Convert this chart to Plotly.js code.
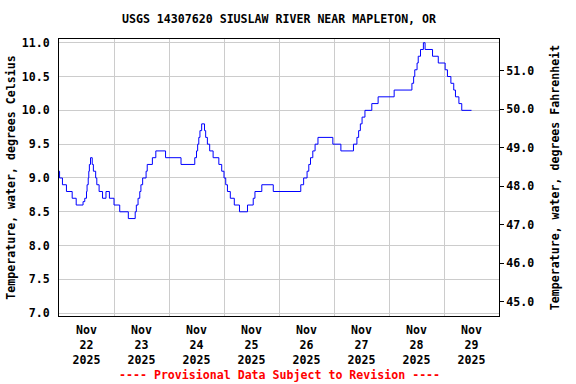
<!DOCTYPE html>
<html>
<head>
<meta charset="utf-8">
<script src="https://cdn.plot.ly/plotly-3.0.1.min.js"></script>
<style>html,body{margin:0;padding:0;background:#fff;}#chart{width:576px;height:384px;}</style>
</head>
<body>
<div id="chart"></div>
<script>
// Change points of the 15-minute water temperature record (deg C), drawn as steps
const times = [
  '2025-11-22 00:00','2025-11-22 00:15','2025-11-22 01:30','2025-11-22 03:15','2025-11-22 05:45',
  '2025-11-22 07:30','2025-11-22 10:30','2025-11-22 11:15','2025-11-22 12:00','2025-11-22 12:15',
  '2025-11-22 12:45','2025-11-22 13:00','2025-11-22 13:15','2025-11-22 13:45','2025-11-22 14:30',
  '2025-11-22 15:00','2025-11-22 16:00','2025-11-22 16:30','2025-11-22 17:30','2025-11-22 19:00',
  '2025-11-22 20:30','2025-11-22 22:00','2025-11-23 00:00','2025-11-23 02:30','2025-11-23 06:15',
  '2025-11-23 09:15','2025-11-23 09:45','2025-11-23 10:30','2025-11-23 11:15','2025-11-23 11:45',
  '2025-11-23 12:30','2025-11-23 14:00','2025-11-23 14:30','2025-11-23 16:45','2025-11-23 18:15',
  '2025-11-23 22:30','2025-11-24 05:15','2025-11-24 11:15','2025-11-24 12:00','2025-11-24 12:30',
  '2025-11-24 13:00','2025-11-24 13:30','2025-11-24 14:15','2025-11-24 15:30','2025-11-24 16:00',
  '2025-11-24 16:45','2025-11-24 17:45','2025-11-24 19:15','2025-11-24 21:45','2025-11-24 23:00',
  '2025-11-25 00:00','2025-11-25 00:45','2025-11-25 01:30','2025-11-25 02:45','2025-11-25 04:30',
  '2025-11-25 06:45','2025-11-25 10:15','2025-11-25 12:45','2025-11-25 13:30','2025-11-25 16:30',
  '2025-11-25 21:30','2025-11-26 09:30','2025-11-26 10:45','2025-11-26 12:15','2025-11-26 13:00',
  '2025-11-26 13:45','2025-11-26 14:45','2025-11-26 15:45','2025-11-26 17:00','2025-11-26 23:30',
  '2025-11-27 03:00','2025-11-27 08:30','2025-11-27 10:00','2025-11-27 10:45','2025-11-27 11:30',
  '2025-11-27 12:15','2025-11-27 13:30','2025-11-27 16:30','2025-11-27 19:15','2025-11-28 02:15',
  '2025-11-28 10:00','2025-11-28 10:45','2025-11-28 11:15','2025-11-28 12:15','2025-11-28 12:45',
  '2025-11-28 13:45','2025-11-28 15:00','2025-11-28 15:45','2025-11-28 19:00','2025-11-28 21:30',
  '2025-11-29 00:30','2025-11-29 01:30','2025-11-29 03:00','2025-11-29 04:15','2025-11-29 05:00',
  '2025-11-29 06:30','2025-11-29 07:45','2025-11-29 12:00'
];
const tempC = [
  9.1, 9.0, 8.9, 8.8, 8.7,
  8.6, 8.65, 8.7, 8.8, 8.9,
  9.0, 9.1, 9.2, 9.3, 9.2,
  9.1, 9.0, 8.9, 8.8, 8.7,
  8.8, 8.7, 8.6, 8.5, 8.4,
  8.5, 8.6, 8.7, 8.8, 8.9,
  9.0, 9.1, 9.2, 9.3, 9.4,
  9.3, 9.2, 9.3, 9.4, 9.5,
  9.6, 9.7, 9.8, 9.7, 9.6,
  9.5, 9.4, 9.3, 9.2, 9.1,
  9.0, 8.9, 8.8, 8.7, 8.6,
  8.5, 8.6, 8.7, 8.8, 8.9,
  8.8, 8.9, 9.0, 9.1, 9.2,
  9.3, 9.4, 9.5, 9.6, 9.5,
  9.4, 9.5, 9.6, 9.7, 9.8,
  9.9, 10.0, 10.1, 10.2, 10.3,
  10.4, 10.5, 10.6, 10.7, 10.8,
  10.9, 11.0, 10.9, 10.8, 10.7,
  10.6, 10.5, 10.4, 10.3, 10.2,
  10.1, 10.0, 10.0
];
const dayGrid = ['2025-11-22','2025-11-23','2025-11-24','2025-11-25','2025-11-26','2025-11-27','2025-11-28','2025-11-29','2025-11-30'];
const dayLabelAt = ['2025-11-22 12:00','2025-11-23 12:00','2025-11-24 12:00','2025-11-25 12:00','2025-11-26 12:00','2025-11-27 12:00','2025-11-28 12:00','2025-11-29 12:00'];
const dayLabels = ['Nov<br>22<br>2025','Nov<br>23<br>2025','Nov<br>24<br>2025','Nov<br>25<br>2025','Nov<br>26<br>2025','Nov<br>27<br>2025','Nov<br>28<br>2025','Nov<br>29<br>2025'];
const celsiusTicks = [7.0, 7.5, 8.0, 8.5, 9.0, 9.5, 10.0, 10.5, 11.0];
const fahrenheitTicks = [45, 46, 47, 48, 49, 50, 51];
const xRange = ['2025-11-22 00:00', '2025-11-30 00:00'];
const celsiusRange = [6.959, 11.055];
const fahrenheitRange = [44.63, 51.82];

const FONT = 'DejaVu Sans Mono, Liberation Mono, monospace';
const baseFont = {family: FONT, size: 11.6, color: '#000', weight: 'bold'};

const traces = [
  {x: times, y: tempC, type: 'scatter', mode: 'lines', line: {color: '#0000ff', width: 1, shape: 'hv'},
   xaxis: 'x', yaxis: 'y', hoverinfo: 'skip', showlegend: false},
  {x: [], y: [], type: 'scatter', mode: 'lines', xaxis: 'x2', yaxis: 'y', showlegend: false, hoverinfo: 'skip'},
  {x: [], y: [], type: 'scatter', mode: 'lines', xaxis: 'x', yaxis: 'y2', showlegend: false, hoverinfo: 'skip'}
];

const layout = {
  width: 576, height: 384,
  margin: {l: 59, r: 77, t: 39, b: 68, pad: 0},
  paper_bgcolor: '#fff', plot_bgcolor: '#fff',
  font: baseFont,
  showlegend: false,
  title: {text: 'USGS 14307620 SIUSLAW RIVER NEAR MAPLETON, OR', font: baseFont,
          xref: 'paper', x: 0.5, xanchor: 'center', yref: 'container', y: 1 - 19/384, yanchor: 'middle'},
  xaxis: {type: 'date', range: xRange, tickmode: 'array', tickvals: dayGrid, ticktext: dayGrid.map(() => ''),
          showgrid: true, gridcolor: '#cccccc', gridwidth: 1, ticks: '', zeroline: false,
          showline: true, linecolor: '#000', linewidth: 1, mirror: true, fixedrange: true},
  xaxis2: {type: 'date', overlaying: 'x', side: 'bottom', range: xRange, tickmode: 'array',
           tickvals: dayLabelAt, ticktext: dayLabels, showgrid: false, showline: false, zeroline: false,
           ticks: 'outside', ticklen: 3, tickcolor: 'rgba(0,0,0,0)', tickfont: baseFont, fixedrange: true},
  yaxis: {range: celsiusRange, tickmode: 'array', tickvals: celsiusTicks, ticktext: celsiusTicks.map(v => v.toFixed(1)),
          showgrid: true, gridcolor: '#cccccc', gridwidth: 1, zeroline: false,
          ticks: 'outside', ticklen: 6, tickcolor: 'rgba(0,0,0,0)', tickfont: baseFont,
          showline: true, linecolor: '#000', linewidth: 1, mirror: true, fixedrange: true,
          title: {text: 'Temperature, water, degrees Celsius', font: baseFont, standoff: 3}},
  yaxis2: {overlaying: 'y', side: 'right', range: fahrenheitRange, tickmode: 'array', tickvals: fahrenheitTicks,
           ticktext: fahrenheitTicks.map(v => v.toFixed(1)), showgrid: false, zeroline: false,
           ticks: 'outside', ticklen: 4, tickcolor: '#000', tickfont: baseFont, showline: false, fixedrange: true,
           title: {text: 'Temperature, water, degrees Fahrenheit', font: baseFont, standoff: 17}},
  annotations: [
    {text: '---- Provisional Data Subject to Revision ----', xref: 'paper', yref: 'paper', x: 0.5, y: (316 - 375) / 277,
     xanchor: 'center', yanchor: 'middle', showarrow: false,
     font: {family: FONT, size: 11.6, color: '#ff0000', weight: 'bold'}}
  ]
};

Plotly.newPlot('chart', traces, layout, {staticPlot: true, displayModeBar: false});
</script>
</body>
</html>
